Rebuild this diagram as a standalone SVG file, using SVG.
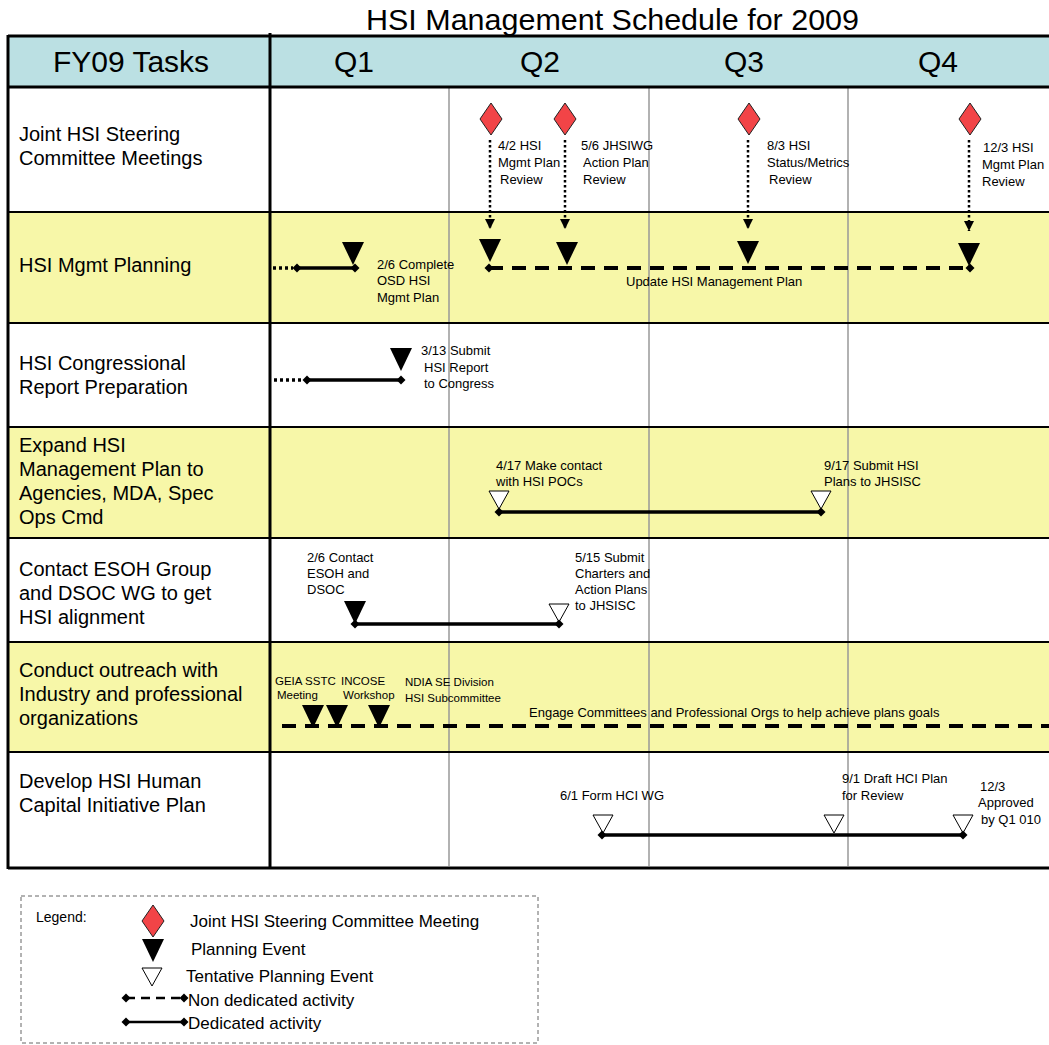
<svg xmlns="http://www.w3.org/2000/svg" xmlns:xlink="http://www.w3.org/1999/xlink" width="1049" height="1045" viewBox="0 0 1049 1045">
<style>
text{font-family:"Liberation Sans",Arial,sans-serif;fill:#000}
.title{font-size:29px}
.hdr{font-size:30px;text-anchor:middle}
.task{font-size:20px}
.lbl{font-size:13px}
.sm{font-size:11.5px}
.lg{font-size:17px}
.lgs{font-size:14px}
.white{fill:#fff}
.yellow{fill:#F7F7A8}
.head{fill:#BBE0E3}
.border{stroke:#000;stroke-width:2;fill:none}
.thick{stroke:#000;stroke-width:3;fill:none}
.grid{stroke:#999;stroke-width:1.5}
.pe{fill:#000}
.tpe{fill:#fff;stroke:#000;stroke-width:1}
.jm{fill:#F24447;stroke:#222;stroke-width:1}
.solid{stroke:#000;stroke-width:3.5;fill:none}
.dash{stroke:#000;stroke-width:4;fill:none;stroke-dasharray:14 9}
.dots{stroke:#000;stroke-width:3.5;fill:none;stroke-dasharray:3 3}
.vdots{stroke:#000;stroke-width:2.5;fill:none;stroke-dasharray:2.5 2.5}
</style>
<defs>
<path id="tri" d="M-11,-23 L11,-23 L0,0 Z"/>
<path id="wtri" d="M-10,-18 L10,-18 L0,0 Z"/>
<path id="dia" d="M0,-16 L11,0 L0,16 L-11,0 Z"/>
<marker id="dm" viewBox="-5 -5 10 10" markerUnits="userSpaceOnUse" markerWidth="10" markerHeight="10" refX="0" refY="0" orient="auto">
<path d="M0,-4.5 L4.5,0 L0,4.5 L-4.5,0 Z" fill="#000"/>
</marker>
<marker id="ah" viewBox="0 0 10 10" markerUnits="userSpaceOnUse" markerWidth="10" markerHeight="10" refX="10" refY="5" orient="auto">
<path d="M0,0 L10,5 L0,10 Z" fill="#000"/>
</marker>
</defs>

<rect x="0" y="0" width="1049" height="1045" fill="#fff"/>
<text class="title" x="366" y="30" textLength="493" lengthAdjust="spacingAndGlyphs">HSI Management Schedule for 2009</text>

<g id="header">
<rect class="head" x="8" y="36" width="1041" height="51"/>
<text class="hdr" x="131" y="72">FY09 Tasks</text>
<text class="hdr" x="354" y="72">Q1</text>
<text class="hdr" x="540" y="72">Q2</text>
<text class="hdr" x="744" y="72">Q3</text>
<text class="hdr" x="938" y="72">Q4</text>
</g>

<g id="rows">
<rect class="white" x="8" y="87" width="1041" height="125"/>
<rect class="yellow" x="8" y="212" width="1041" height="111"/>
<rect class="white" x="8" y="323" width="1041" height="104"/>
<rect class="yellow" x="8" y="427" width="1041" height="111"/>
<rect class="white" x="8" y="538" width="1041" height="104"/>
<rect class="yellow" x="8" y="642" width="1041" height="110"/>
<rect class="white" x="8" y="752" width="1041" height="116"/>
</g>

<g id="grid">
<line class="grid" x1="449" y1="87" x2="449" y2="866"/>
<line class="grid" x1="649" y1="87" x2="649" y2="866"/>
<line class="grid" x1="848" y1="87" x2="848" y2="866"/>
<line class="border" x1="8" y1="212" x2="1049" y2="212"/>
<line class="border" x1="8" y1="323" x2="1049" y2="323"/>
<line class="border" x1="8" y1="427" x2="1049" y2="427"/>
<line class="border" x1="8" y1="538" x2="1049" y2="538"/>
<line class="border" x1="8" y1="642" x2="1049" y2="642"/>
<line class="border" x1="8" y1="752" x2="1049" y2="752"/>
<line class="thick" x1="8" y1="36" x2="1049" y2="36"/>
<line class="thick" x1="8" y1="87" x2="1049" y2="87"/>
<line class="thick" x1="8" y1="868" x2="1049" y2="868"/>
<line class="thick" x1="8" y1="35" x2="8" y2="869"/>
<line class="thick" x1="270" y1="33" x2="270" y2="869"/>
</g>

<g id="task-jhsc">
<text class="task" x="19" y="141">Joint HSI Steering</text>
<text class="task" x="19" y="165">Committee Meetings</text>
<use xlink:href="#dia" class="jm" x="491" y="119"/>
<use xlink:href="#dia" class="jm" x="565" y="119"/>
<use xlink:href="#dia" class="jm" x="749" y="119"/>
<use xlink:href="#dia" class="jm" x="970" y="119"/>
<text class="lbl" x="498" y="150">4/2 HSI</text>
<text class="lbl" x="498" y="167">Mgmt Plan</text>
<text class="lbl" x="500" y="184">Review</text>
<text class="lbl" x="581" y="150">5/6 JHSIWG</text>
<text class="lbl" x="583" y="167">Action Plan</text>
<text class="lbl" x="583" y="184">Review</text>
<text class="lbl" x="767" y="150">8/3 HSI</text>
<text class="lbl" x="767" y="167">Status/Metrics</text>
<text class="lbl" x="769" y="184">Review</text>
<text class="lbl" x="983" y="152">12/3 HSI</text>
<text class="lbl" x="982" y="169">Mgmt Plan</text>
<text class="lbl" x="982" y="186">Review</text>
</g>

<g id="task-mgmt-planning">
<text class="task" x="19" y="272">HSI Mgmt  Planning</text>
<use xlink:href="#tri" class="pe" x="353" y="265"/>
<use xlink:href="#tri" class="pe" x="490" y="262"/>
<use xlink:href="#tri" class="pe" x="567" y="265"/>
<use xlink:href="#tri" class="pe" x="748" y="264"/>
<use xlink:href="#tri" class="pe" x="969" y="266"/>
<text class="lbl" x="377" y="269">2/6 Complete</text>
<text class="lbl" x="377" y="285">OSD HSI</text>
<text class="lbl" x="377" y="302">Mgmt Plan</text>
<text class="lbl" x="626" y="286">Update HSI Management Plan</text>
</g>

<g id="task-congress">
<text class="task" x="19" y="370">HSI Congressional</text>
<text class="task" x="19" y="394">Report Preparation</text>
<use xlink:href="#tri" class="pe" x="401" y="371"/>
<text class="lbl" x="421" y="355">3/13 Submit</text>
<text class="lbl" x="424" y="372">HSI Report</text>
<text class="lbl" x="424" y="388">to Congress</text>
</g>

<g id="task-expand">
<text class="task" x="19" y="452">Expand HSI</text>
<text class="task" x="19" y="476">Management Plan to</text>
<text class="task" x="19" y="500">Agencies, MDA, Spec</text>
<text class="task" x="19" y="524">Ops Cmd</text>
<use xlink:href="#wtri" class="tpe" x="499" y="509"/>
<use xlink:href="#wtri" class="tpe" x="821" y="509"/>
<text class="lbl" x="496" y="470">4/17 Make contact</text>
<text class="lbl" x="496" y="486">with HSI POCs</text>
<text class="lbl" x="824" y="470">9/17 Submit  HSI</text>
<text class="lbl" x="824" y="486">Plans to JHSISC</text>
</g>

<g id="task-esoh">
<text class="task" x="19" y="576">Contact ESOH Group</text>
<text class="task" x="19" y="600">and DSOC WG to get</text>
<text class="task" x="19" y="624">HSI alignment</text>
<use xlink:href="#tri" class="pe" x="355" y="624"/>
<use xlink:href="#wtri" class="tpe" x="559" y="622"/>
<text class="lbl" x="307" y="562">2/6 Contact</text>
<text class="lbl" x="307" y="578">ESOH and</text>
<text class="lbl" x="307" y="594">DSOC</text>
<text class="lbl" x="575" y="562">5/15 Submit</text>
<text class="lbl" x="575" y="578">Charters and</text>
<text class="lbl" x="575" y="594">Action Plans</text>
<text class="lbl" x="575" y="610">to JHSISC</text>
</g>

<g id="task-outreach">
<text class="task" x="19" y="677">Conduct outreach with</text>
<text class="task" x="19" y="701">Industry and professional</text>
<text class="task" x="19" y="725">organizations</text>
<use xlink:href="#tri" class="pe" x="313" y="728"/>
<use xlink:href="#tri" class="pe" x="337" y="728"/>
<use xlink:href="#tri" class="pe" x="379" y="728"/>
<text class="sm" x="275" y="685">GEIA SSTC</text>
<text class="sm" x="277" y="699">Meeting</text>
<text class="sm" x="341" y="685">INCOSE</text>
<text class="sm" x="343" y="699">Workshop</text>
<text class="sm" x="405" y="686">NDIA SE Division</text>
<text class="sm" x="405" y="702">HSI Subcommittee</text>
<text class="lbl" x="529" y="717">Engage Committees and Professional Orgs to help achieve plans goals</text>
</g>

<g id="task-hci">
<text class="task" x="19" y="788">Develop HSI Human</text>
<text class="task" x="19" y="812">Capital Initiative Plan</text>
<use xlink:href="#wtri" class="tpe" x="603" y="833"/>
<use xlink:href="#wtri" class="tpe" x="834" y="833"/>
<use xlink:href="#wtri" class="tpe" x="963" y="833"/>
<text class="lbl" x="560" y="800">6/1 Form HCI WG</text>
<text class="lbl" x="842" y="783">9/1 Draft HCI Plan</text>
<text class="lbl" x="842" y="800">for Review</text>
<text class="lbl" x="980" y="791">12/3</text>
<text class="lbl" x="978" y="807">Approved</text>
<text class="lbl" x="981" y="824">by Q1 010</text>
</g>

<g id="connectors">
<line class="vdots" x1="490" y1="140" x2="490" y2="229" marker-end="url(#ah)"/>
<line class="vdots" x1="565" y1="140" x2="565" y2="229" marker-end="url(#ah)"/>
<line class="vdots" x1="748" y1="140" x2="748" y2="229" marker-end="url(#ah)"/>
<line class="vdots" x1="969" y1="140" x2="969" y2="231" marker-end="url(#ah)"/>
<line class="dots" x1="273" y1="268" x2="293" y2="268"/>
<line class="solid" x1="297" y1="268" x2="355" y2="268" marker-start="url(#dm)" marker-end="url(#dm)"/>
<line class="dash" x1="489" y1="268" x2="970" y2="268" marker-start="url(#dm)" marker-end="url(#dm)"/>
<line class="dots" x1="274" y1="380" x2="303" y2="380"/>
<line class="solid" x1="307" y1="380" x2="401" y2="380" marker-start="url(#dm)" marker-end="url(#dm)"/>
<line class="solid" x1="499" y1="512" x2="821" y2="512" marker-start="url(#dm)" marker-end="url(#dm)"/>
<line class="solid" x1="355" y1="624" x2="559" y2="624" marker-start="url(#dm)" marker-end="url(#dm)"/>
<line class="dash" x1="282" y1="726" x2="1049" y2="726"/>
<line class="solid" x1="602" y1="835" x2="963" y2="835" marker-start="url(#dm)" marker-end="url(#dm)"/>
</g>

<g id="legend">
<rect x="21" y="896" width="517" height="147" fill="none" stroke="#666" stroke-width="1" stroke-dasharray="4 3"/>
<text class="lgs" x="36" y="922">Legend:</text>
<use xlink:href="#dia" class="jm" x="153" y="921"/>
<text class="lg" x="190" y="927">Joint HSI Steering Committee Meeting</text>
<use xlink:href="#tri" class="pe" x="153" y="962"/>
<text class="lg" x="191" y="955">Planning Event</text>
<use xlink:href="#wtri" class="tpe" x="152" y="986"/>
<text class="lg" x="186" y="982">Tentative Planning Event</text>
<line x1="126" y1="998" x2="184" y2="998" stroke="#000" stroke-width="2.5" stroke-dasharray="9 6" marker-start="url(#dm)" marker-end="url(#dm)"/>
<text class="lg" x="188" y="1006">Non dedicated activity</text>
<line x1="126" y1="1022" x2="184" y2="1022" stroke="#000" stroke-width="2.5" marker-start="url(#dm)" marker-end="url(#dm)"/>
<text class="lg" x="188" y="1029">Dedicated activity</text>
</g>
</svg>
